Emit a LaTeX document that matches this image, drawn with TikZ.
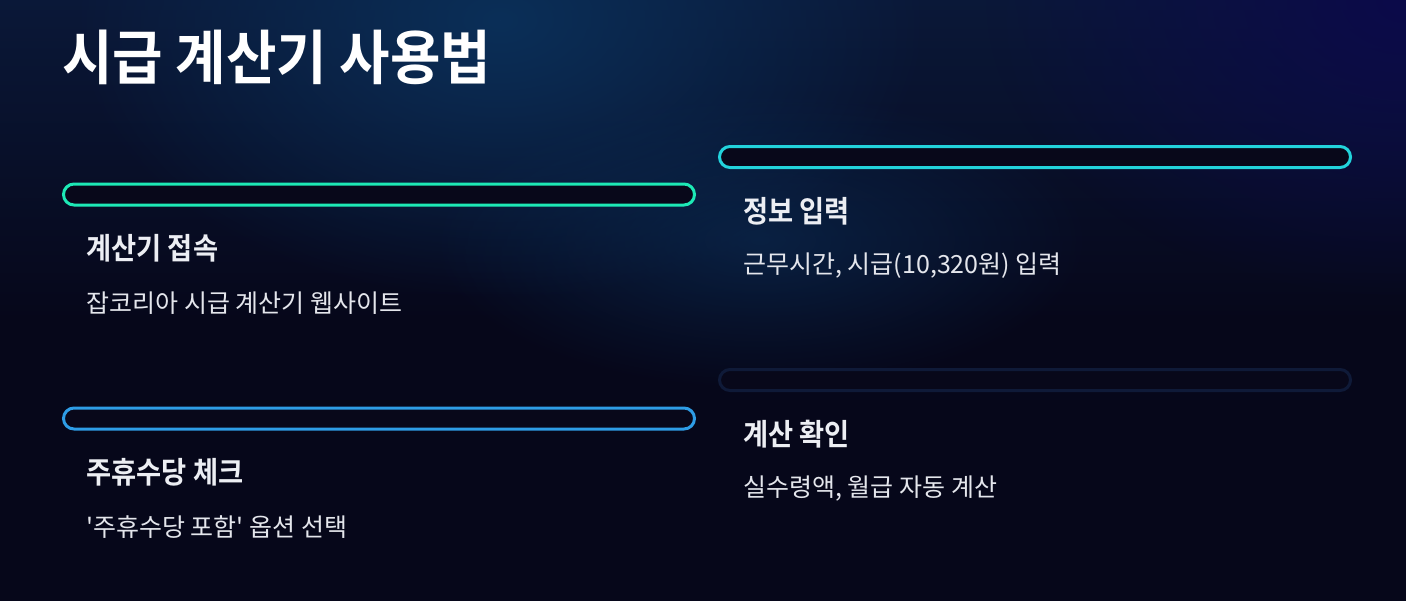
\documentclass[tikz,border=0pt]{standalone}
\usepackage{fontspec}
\setmainfont{Noto Sans CJK KR}[Ligatures=TeXOff]
\newfontfamily\krbold{Noto Sans CJK KR}[UprightFont=* Bold,FakeStretch=0.91]
\newfontfamily\krtitle{Noto Sans CJK KR}[UprightFont=* Bold,FakeStretch=0.93]
\usetikzlibrary{positioning,fadings}
\definecolor{bgbase}{HTML}{06071A}
\definecolor{bgtop}{HTML}{0A1838}
\definecolor{glowblue}{HTML}{0B2F58}
\definecolor{glowviolet}{HTML}{0C0A4A}
\definecolor{pillbg}{HTML}{08081A}
\definecolor{mint}{HTML}{1DE9B6}
\definecolor{aqua}{HTML}{22D3DC}
\definecolor{sky}{HTML}{2E9DE6}
\definecolor{dimline}{HTML}{0F1A38}
\definecolor{headtxt}{HTML}{ECEEF3}
\definecolor{bodytxt}{HTML}{E4E6EC}
\tikzfading[name=softglow, inner color=transparent!0, outer color=transparent!100]

\begin{document}
\begin{tikzpicture}[x=0.5pt,y=-0.5pt,
  pill/.style={draw,line width=1.5pt,fill=pillbg,rounded corners=5.25pt,
    minimum width=315.5pt,minimum height=10.5pt,inner sep=0pt},
  head/.style={anchor=west,inner sep=0pt,text=headtxt,font=\krbold\fontsize{15}{18}\selectfont},
  body/.style={anchor=west,inner sep=0pt,text=bodytxt,font=\fontsize{12.5}{15}\selectfont}]
\useasboundingbox (0,0) rectangle (1406,601);
% background
\fill[bgbase] (0,0) rectangle (1406,601);
\shade[top color=bgtop,bottom color=bgbase] (0,0) rectangle (1406,320);
\fill[glowblue,path fading=softglow] (500,20) ellipse (430 and 280);
\fill[glowblue,path fading=softglow,opacity=0.6] (760,240) ellipse (330 and 150);
\fill[glowviolet,path fading=softglow] (1406,0) ellipse (420 and 300);
% title
\node[anchor=west,inner sep=0pt,text=white,font=\krtitle\fontsize{29.5}{33}\selectfont] (title) at (62,57) {시급 계산기 사용법};
% cards
\node[pill,draw=mint] (bar1) at (379,194.5) {};
\node[pill,draw=aqua] (bar2) at (1035,157) {};
\node[pill,draw=sky] (bar3) at (379,418.5) {};
\node[pill,draw=dimline] (bar4) at (1035,380) {};
\node[head] (h1) at ([shift={(24,54)}]bar1.west) {계산기 접속};
\node[body] (b1) at ([shift={(24,109)}]bar1.west) {잡코리아 시급 계산기 웹사이트};
\node[head] (h2) at ([shift={(25,54)}]bar2.west) {정보 입력};
\node[body] (b2) at ([shift={(25,109)}]bar2.west) {근무시간, 시급(10,320원) 입력};
\node[head] (h3) at ([shift={(24,54)}]bar3.west) {주휴수당 체크};
\node[body] (b3) at ([shift={(24,109)}]bar3.west) {'주휴수당 포함' 옵션 선택};
\node[head] (h4) at ([shift={(25,54)}]bar4.west) {계산 확인};
\node[body] (b4) at ([shift={(25,109)}]bar4.west) {실수령액, 월급 자동 계산};
\end{tikzpicture}
\end{document}
